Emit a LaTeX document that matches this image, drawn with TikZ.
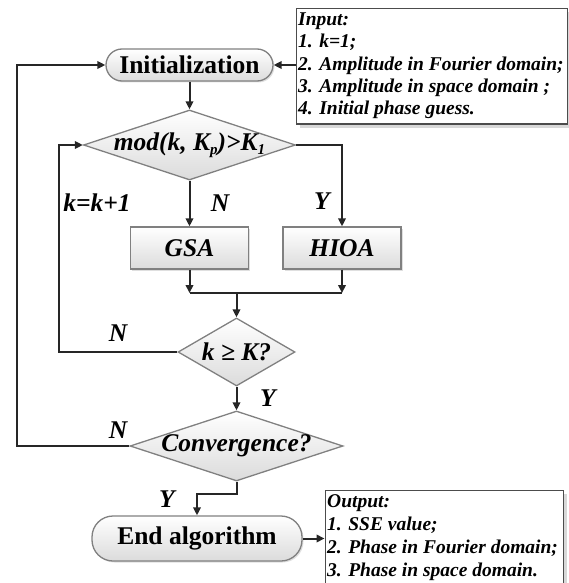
\documentclass[tikz,border=0pt]{standalone}
\usepackage{fontspec}
\setmainfont{Liberation Serif}
\usetikzlibrary{shapes.geometric, arrows.meta, shadows}
\newcommand{\mysub}[1]{\raisebox{-0.3ex}{\fontsize{15}{15}\selectfont #1}}
\tikzset{
  conn/.style={line width=2pt, draw=black!85},
  arr/.style={conn, -{Triangle[length=8pt,width=7.5pt]}},
  boxfill/.style={top color=white, bottom color=black!14, draw=black!50, line width=1.3pt},
  term/.style={rectangle, boxfill, inner sep=0pt,
     drop shadow={shadow xshift=1.5pt, shadow yshift=-1.5pt, fill=black!25}},
  proc/.style={rectangle, boxfill, inner sep=0pt, minimum width=118pt, minimum height=42pt,
     drop shadow={shadow xshift=1.5pt, shadow yshift=-1.5pt, fill=black!25}},
  dec/.style={diamond, boxfill, inner sep=0pt},
  note/.style={rectangle, draw=black!70, line width=1pt, fill=white, inner sep=0pt,
     drop shadow={shadow xshift=3.5pt, shadow yshift=-3.5pt, fill=black!30}},
  lab/.style={font=\fontsize{25.5}{25.5}\selectfont\bfseries\itshape, inner sep=0pt},
  notetext/.style={font=\fontsize{19.5}{22.3}\selectfont\bfseries\itshape, inner sep=0pt, align=left},
}
\begin{document}
\begin{tikzpicture}[x=1pt,y=-1pt]
\path[use as bounding box] (0,0) rectangle (569,583);
\begin{scope}
\clip (0,0) rectangle (569,583);
% terminals
\node[term, rounded corners=16pt, minimum width=167pt, minimum height=32pt,
      font=\fontsize{25.5}{25.5}\selectfont\bfseries] (init) at (189.5,65) {Initialization};
\node[term, rounded corners=21pt, minimum width=210pt, minimum height=45pt,
      font=\fontsize{25.5}{25.5}\selectfont\bfseries] (end) at (197,538.5) {End algorithm};
% notes
\node[note, minimum width=271pt, minimum height=115pt] (inbox) at (431.5,66.5) {};
\node[notetext, anchor=north west] (intext) at (298,12.5)
  {Input:\\1. k=1;\\2. Amplitude in Fourier domain;\\3. Amplitude in space domain ;\\4. Initial phase guess.};
\node[note, minimum width=238pt, minimum height=115pt] (outbox) at (444,547.5) {};
\node[notetext, anchor=north west, font=\fontsize{19.5}{23}\selectfont\bfseries\itshape] (outtext) at (327,494.5)
  {Output:\\1. SSE value;\\2. Phase in Fourier domain;\\3. Phase in space domain.};
% decisions
\node[dec, minimum width=212pt, minimum height=70pt] (d1) at (189.5,145) {};
\node[lab] (d1t) at (d1) {mod(k, K\mysub{p})>K\mysub{1}};
\node[dec, minimum width=117pt, minimum height=68pt] (d2) at (236.5,352) {};
\node[lab] (d2t) at (d2) {k ≥ K?};
\node[dec, minimum width=213pt, minimum height=70pt] (conv) at (236.5,446) {};
\node[lab] (convt) at (conv) {Convergence?};
% processes
\node[proc, lab] (gsa) at (189.5,248) {GSA};
\node[proc, lab] (hioa) at (342,248) {HIOA};
% coordinates
\coordinate (mC) at (236.5,293);
\coordinate (lp1) at (59,0);
\coordinate (lp2) at (17,0);
% connectors
\draw[arr] (inbox.west |- init.east) -- (init.east);
\draw[arr] (init.south) -- (d1.north);
\draw[arr] (d1.south) -- (gsa.north);
\draw[arr] (d1.east) -| (hioa.north);
\draw[arr] (gsa.south) -- (gsa.south |- mC);
\draw[arr] (hioa.south) -- (hioa.south |- mC);
\draw[conn] (gsa.south |- mC) -- (hioa.south |- mC);
\draw[arr] (mC) -- (d2.north);
\draw[arr] (d2.west) -- (d2.west -| lp1) |- (d1.west);
\draw[arr] (d2.south) -- (conv.north);
\draw[arr] (conv.west) -- (conv.west -| lp2) |- (init.west);
\draw[arr] (conv.south) -- ++(0,12) -| (end.north);
\draw[arr] (end.east) -- (outbox.west |- end.east);
% labels
\node[lab] (lk) at (97,203) {k=k+1};
\node[lab] (ln1) at (220,203) {N};
\node[lab] (ly1) at (322,201) {Y};
\node[lab] (ln2) at (118,333) {N};
\node[lab] (ly2) at (268,398) {Y};
\node[lab] (ln3) at (118,430) {N};
\node[lab] (ly3) at (167,499) {Y};
\end{scope}
\end{tikzpicture}
\end{document}
